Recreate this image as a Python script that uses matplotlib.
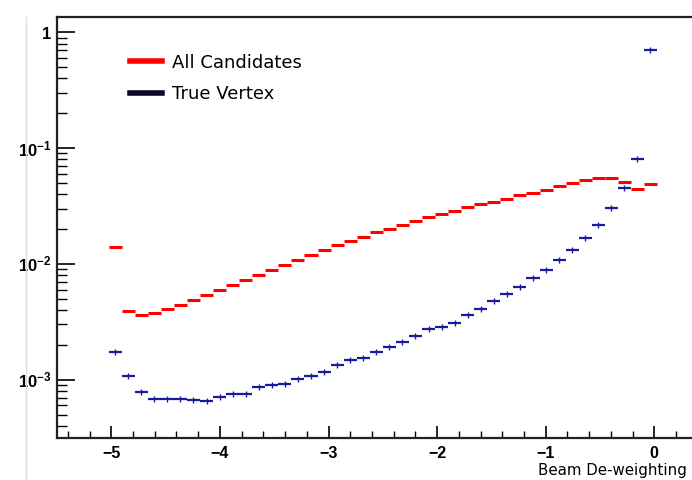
import numpy as np
import matplotlib
matplotlib.use("Agg")
import matplotlib.pyplot as plt
from matplotlib.lines import Line2D

# 42 bins of beam de-weighting
bin_edges = np.linspace(-5.025, 0.025, 43)

all_candidates = [
    0.01390, 0.003897, 0.003598, 0.003767, 0.004053, 0.004443, 0.004907,
    0.005420, 0.005916, 0.006574, 0.007261, 0.008020, 0.008913, 0.009842,
    0.01087, 0.01201, 0.01318, 0.01447, 0.01577, 0.01717, 0.01886,
    0.02014, 0.02181, 0.02347, 0.02526, 0.02713, 0.02880, 0.03083,
    0.03292, 0.03458, 0.03656, 0.03912, 0.04120, 0.04373, 0.04678,
    0.04966, 0.05271, 0.05552, 0.05552, 0.05097, 0.04407, 0.04927,
]

true_vertex = [
    0.001745, 0.001087, 0.000786, 0.000679, 0.000679, 0.000679, 0.000672,
    0.000651, 0.000713, 0.000748, 0.000748, 0.000867, 0.000905, 0.000927,
    0.001014, 0.001076, 0.001159, 0.001345, 0.001480, 0.001540, 0.001724,
    0.001916, 0.002129, 0.002384, 0.002723, 0.002834, 0.003106, 0.003641,
    0.004053, 0.004810, 0.005463, 0.006354, 0.007508, 0.008858, 0.010806,
    0.013234, 0.016736, 0.021810, 0.030200, 0.045220, 0.080060, 0.7034,
]

plt.rcParams['mathtext.fontset'] = 'custom'
plt.rcParams['mathtext.rm'] = 'Liberation Sans:bold'
plt.rcParams['mathtext.it'] = 'Liberation Sans:bold'
plt.rcParams['mathtext.bf'] = 'Liberation Sans:bold'

centers = 0.5 * (bin_edges[:-1] + bin_edges[1:])
half = 0.5 * np.diff(bin_edges)

fig = plt.figure(figsize=(6.92, 4.8), dpi=100)
ax = fig.add_axes([0.0824, 0.0875, 0.9416, 0.877])

red = "#ff0000"
blue = "#1a1aa0"
ax.errorbar(centers, all_candidates, xerr=half, fmt="none", ecolor=red, elinewidth=2.2)
ax.errorbar(centers, true_vertex, xerr=half, fmt="none", ecolor=blue, elinewidth=1.6)
ax.plot(centers, true_vertex, linestyle="none", marker="|", ms=5, mew=1.0, color=blue)

ax.set_yscale("log")
ax.set_xlim(-5.5, 0.5)
ax.set_ylim(3.14e-4, 1.355)

ax.set_xticks([-5, -4, -3, -2, -1, 0])
ax.set_xticklabels(["\u22125", "\u22124", "\u22123", "\u22122", "\u22121", "0"],
                   fontfamily="Liberation Sans", fontweight="bold", fontsize=11.5)
ax.set_xticks(np.arange(-5.4, 0.5, 0.2), minor=True)
ax.set_yticks([1e-3, 1e-2, 1e-1, 1])
ax.set_yticklabels([r"$10^{-3}$", r"$10^{-2}$", r"$10^{-1}$", r"$1$"], fontsize=12)
ax.yaxis.set_minor_locator(matplotlib.ticker.LogLocator(base=10, subs=np.arange(2, 10)))
ax.yaxis.set_minor_formatter(matplotlib.ticker.NullFormatter())

ax.tick_params(axis="x", which="major", direction="in", length=9, width=1.2, pad=6)
ax.tick_params(axis="x", which="minor", direction="in", length=5, width=1.0)
ax.tick_params(axis="y", which="major", direction="in", length=13, width=1.2, pad=4)
ax.tick_params(axis="y", which="minor", direction="in", length=7, width=1.0)
for s in ax.spines.values():
    s.set_linewidth(1.6)
    s.set_color("#222222")

handles = [Line2D([], [], color=red, lw=4), Line2D([], [], color="#0a0a25", lw=4)]
leg = ax.legend(handles, ["All Candidates", "True Vertex"], loc="upper left",
                bbox_to_anchor=(0.112, 0.913), frameon=False, borderpad=0, borderaxespad=0,
                handlelength=1.8, handletextpad=0.5, labelspacing=0.75,
                prop={"family": "DejaVu Sans", "size": 13})

fig.text(538 / 692, 1 - 470 / 480, "Beam De-weighting", ha="left", va="center",
         fontsize=10.8, fontfamily="DejaVu Sans")
fig.add_artist(Line2D([26 / 692, 26 / 692], [0, 1 - 17 / 480], color="#dddddd", lw=1))

fig.savefig("out.png", dpi=100)
